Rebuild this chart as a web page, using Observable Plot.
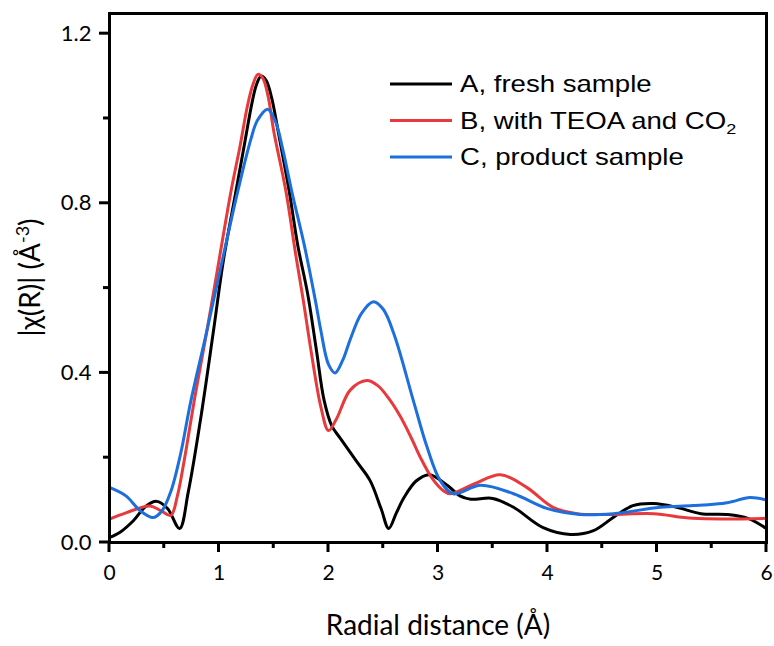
<!DOCTYPE html>
<html><head><meta charset="utf-8">
<script src="https://cdn.jsdelivr.net/npm/d3@7"></script>
<script src="https://cdn.jsdelivr.net/npm/@observablehq/plot@0.6"></script>
<style>
body{margin:0;background:#fff}
#chart{width:774px;height:646px}
</style>
</head><body><div id="chart"></div>
<script>
// Series labels and colours
const seriesNames = ["A, fresh sample", "B, with TEOA and CO2", "C, product sample"];
const seriesColors = ["#000000", "#e8393c", "#1c6fdc"];

// A, fresh sample
const rA = [0, 0.1, 0.22, 0.33, 0.43, 0.53, 0.64, 0.72, 0.83, 0.95, 1.04, 1.15, 1.233, 1.3, 1.34, 1.385, 1.43, 1.48, 1.54, 1.64, 1.72, 1.81, 1.89, 1.96, 2.03, 2.11, 2.26, 2.38, 2.48, 2.55, 2.62, 2.69, 2.8, 2.92, 3.09, 3.2, 3.3, 3.5, 3.69, 3.96, 4.21, 4.42, 4.6, 4.78, 4.97, 5.18, 5.4, 5.64, 5.83, 6.0];
const vA = [0.012, 0.025, 0.052, 0.085, 0.097, 0.08, 0.033, 0.12, 0.288, 0.5, 0.665, 0.822, 0.94, 1.035, 1.078, 1.10, 1.09, 1.05, 0.97, 0.83, 0.70, 0.586, 0.453, 0.335, 0.275, 0.245, 0.19, 0.146, 0.08, 0.033, 0.07, 0.106, 0.145, 0.16, 0.134, 0.11, 0.102, 0.104, 0.083, 0.035, 0.019, 0.028, 0.059, 0.087, 0.092, 0.083, 0.068, 0.066, 0.057, 0.033];

// B, with TEOA and CO2
const rB = [0, 0.15, 0.37, 0.47, 0.56, 0.62, 0.68, 0.785, 0.89, 1.0, 1.105, 1.196, 1.26, 1.31, 1.355, 1.4, 1.45, 1.5, 1.61, 1.7, 1.77, 1.84, 1.93, 2.0, 2.07, 2.2, 2.35, 2.45, 2.55, 2.65, 2.75, 2.85, 2.95, 3.05, 3.11, 3.33, 3.57, 3.81, 4.05, 4.27, 4.57, 4.97, 5.33, 6.0];
const vB = [0.055, 0.07, 0.086, 0.075, 0.064, 0.11, 0.19, 0.351, 0.5, 0.665, 0.822, 0.94, 1.03, 1.08, 1.104, 1.095, 1.05, 0.97, 0.83, 0.68, 0.571, 0.453, 0.32, 0.264, 0.29, 0.36, 0.382, 0.37, 0.34, 0.30, 0.25, 0.195, 0.15, 0.122, 0.115, 0.138, 0.16, 0.13, 0.083, 0.068, 0.066, 0.068, 0.057, 0.057];

// C, product sample
const rC = [0, 0.15, 0.28, 0.4, 0.48, 0.56, 0.65, 0.74, 0.89, 1.03, 1.166, 1.29, 1.35, 1.445, 1.52, 1.58, 1.67, 1.78, 1.88, 1.93, 2.0, 2.06, 2.13, 2.2, 2.3, 2.41, 2.5, 2.6, 2.78, 2.9, 3.02, 3.14, 3.39, 3.69, 4.0, 4.3, 4.6, 5.03, 5.33, 5.64, 5.85, 6.0];
const vC = [0.13, 0.11, 0.075, 0.059, 0.075, 0.12, 0.21, 0.33, 0.5, 0.665, 0.822, 0.95, 0.995, 1.022, 0.99, 0.93, 0.822, 0.70, 0.571, 0.50, 0.42, 0.40, 0.43, 0.48, 0.54, 0.568, 0.55, 0.49, 0.33, 0.225, 0.146, 0.115, 0.135, 0.115, 0.08, 0.066, 0.068, 0.083, 0.087, 0.094, 0.106, 0.1];

// Axis ticks and titles
const xMajor = [0, 1, 2, 3, 4, 5, 6];
const xMinor = [0.5, 1.5, 2.5, 3.5, 4.5, 5.5];
const yMajor = [0, 0.4, 0.8, 1.2];
const yMinor = [0.2, 0.6, 1.0];
const xTitle = "Radial distance (Å)";

const table = [];
[[rA, vA], [rB, vB], [rC, vC]].forEach(([rs, vs], i) => {
  rs.forEach((r, j) => table.push({s: seriesNames[i], r, v: vs[j]}));
});

const plot = Plot.plot({
  width: 774, height: 646,
  marginLeft: 109, marginRight: 8, marginTop: 13, marginBottom: 104,
  style: {fontFamily: "Lato, sans-serif", background: "white", color: "black", overflow: "visible"},
  x: {domain: [0, 6]},
  y: {domain: [0, 1.2476]},
  color: {domain: seriesNames, range: seriesColors},
  marks: [
    Plot.line(table, {x: "r", y: "v", z: "s", stroke: "s", curve: "catmull-rom", strokeWidth: 3}),
    Plot.frame({stroke: "black", strokeWidth: 3}),
    Plot.axisX(xMajor, {tickSize: 0, tickPadding: 23, fontSize: 21, label: null}),
    Plot.axisY(yMajor, {tickSize: 0, tickPadding: 18, fontSize: 22, tickFormat: d3.format(".1f"), label: null}),
    Plot.text([xTitle], {frameAnchor: "bottom", dy: 84, fontSize: 28, lineAnchor: "middle"})
  ]
});
document.getElementById("chart").appendChild(plot);

const svg = d3.select(plot);
const sx = plot.scale("x"), sy = plot.scale("y");
const x0 = sx.apply(0), y0 = sy.apply(0);

// Outward tick marks drawn from the plot's own scales (as filled rects)
const ticks = svg.append("g").attr("fill", "#000");
[[xMajor, 10], [xMinor, 6]].forEach(([vals, len]) => {
  vals.forEach(v => ticks.append("rect")
    .attr("x", sx.apply(v) - 1.5).attr("width", 3)
    .attr("y", y0).attr("height", len));
});
[[yMajor, 10], [yMinor, 6]].forEach(([vals, len]) => {
  vals.forEach(v => ticks.append("rect")
    .attr("y", sy.apply(v) - 1.5).attr("height", 3)
    .attr("x", x0 - len).attr("width", len));
});

// Y axis title with superscript
const yt = svg.append("text")
  .attr("transform", "translate(40,277.5) rotate(-90)")
  .attr("text-anchor", "middle")
  .attr("font-family", "Lato, sans-serif")
  .attr("font-size", 28)
  .attr("fill", "black");
yt.append("tspan").text("|χ(R)| (Å");
yt.append("tspan").attr("font-size", 18).attr("dy", -11).text("-3");
yt.append("tspan").attr("dy", 11).text(")");

// Legend
const legY = [84, 120.5, 157];
const leg = svg.append("g").attr("font-family", "'Liberation Sans', Arial, sans-serif").attr("font-size", 23).attr("text-anchor", "start");
seriesNames.forEach((name, i) => {
  const g = leg.append("g").attr("transform", `translate(0,${legY[i]})`);
  g.append("line").attr("x1", 390).attr("x2", 452).attr("y1", 0).attr("y2", 0)
    .attr("stroke", seriesColors[i]).attr("stroke-width", 3);
  const t = g.append("text").attr("x", 460).attr("y", 8).attr("fill", "black").attr("text-anchor", "start")
    .attr("transform", "translate(460,0) scale(1.2,1) translate(-460,0)");
  if (name.endsWith("CO2")) {
    t.append("tspan").text(name.slice(0, -1));
    t.append("tspan").attr("font-size", 15).attr("dy", 6).text("2");
  } else {
    t.text(name);
  }
});
</script>
</body></html>
